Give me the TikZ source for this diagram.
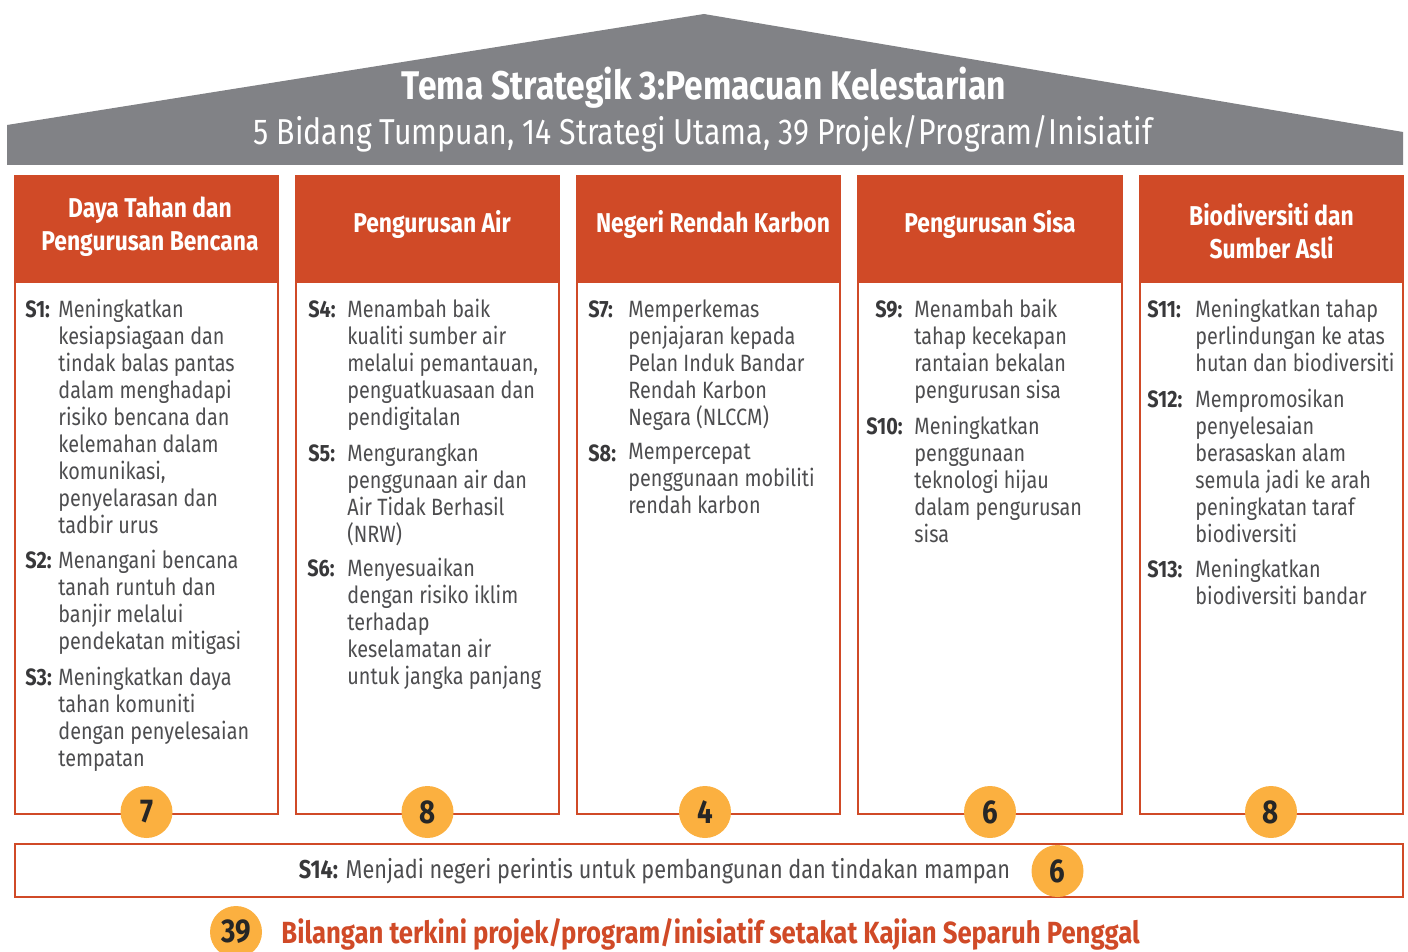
\documentclass[tikz,border=0pt]{standalone}
\usepackage{fontspec}
\setmainfont{Fira Sans}[FakeStretch=0.84]
\definecolor{kred}{HTML}{D04A27}
\definecolor{kgray}{HTML}{818286}
\definecolor{korange}{HTML}{FBB040}
\definecolor{ktext}{HTML}{4D4D4F}
\definecolor{klabel}{HTML}{38383A}
\tikzset{
  pillar/.style={draw=kred, line width=1pt},
  lbl/.style={anchor=north west, inner sep=0pt, text=klabel, font=\fontsize{11.8}{13.5}\selectfont\bfseries},
  body/.style={anchor=north west, inner sep=0pt, align=left, text=ktext, font=\fontsize{11.8}{13.5}\selectfont},
  hdtext/.style={align=center, inner sep=0pt, text=white, font=\fontsize{13.6}{16.5}\selectfont\bfseries},
  badge/.style={circle, fill=korange, minimum size=26pt, inner sep=0pt, text=black!85, font=\fontsize{16.5}{16.5}\selectfont\bfseries},
}
\begin{document}
\begin{tikzpicture}[x=0.5pt, y=-0.5pt]
    \useasboundingbox (0,0) rectangle (1408,952) ;
    % roof
    \fill [kgray] (7,125) -- (704,14) -- (1403,132) -- (1403,165) -- (7,165) -- cycle ;
    \node [text=white, font=\fontsize{20}{20}\selectfont\bfseries] (title) at (704,88) {Tema Strategik 3:Pemacuan Kelestarian} ;
    \node [text=white, font=\fontsize{18}{18}\selectfont] (subtitle) at (703,134) {5 Bidang Tumpuan, 14 Strategi Utama, 39 Projek/Program/Inisiatif} ;

    % pillars
    \draw [pillar] (15,176) rectangle ++(263,638) ;
    \fill [kred] (15,176) rectangle ++(263,107) ;
    \node [hdtext] (hd1) at (150,227) {Daya Tahan dan\\Pengurusan Bencana} ;
    \draw [pillar] (296,176) rectangle ++(263,638) ;
    \fill [kred] (296,176) rectangle ++(263,107) ;
    \node [hdtext] (hd2) at (432,224) {Pengurusan Air} ;
    \draw [pillar] (577,176) rectangle ++(263,638) ;
    \fill [kred] (577,176) rectangle ++(263,107) ;
    \node [hdtext] (hd3) at (713,224) {Negeri Rendah Karbon} ;
    \draw [pillar] (858,176) rectangle ++(264,638) ;
    \fill [kred] (858,176) rectangle ++(264,107) ;
    \node [hdtext] (hd4) at (990,224) {Pengurusan Sisa} ;
    \draw [pillar] (1140,176) rectangle ++(263,638) ;
    \fill [kred] (1140,176) rectangle ++(263,107) ;
    \node [hdtext] (hd5) at (1271.5,231) {Biodiversiti dan\\Sumber Asli} ;

    % strategies
    \node [lbl] (s1) at (25,300) {S1:} ;
    \node [body] (t1) at (58,299) {Meningkatkan\\kesiapsiagaan dan\\tindak balas pantas\\dalam menghadapi\\risiko bencana dan\\kelemahan dalam\\komunikasi,\\penyelarasan dan\\tadbir urus} ;
    \node [lbl] (s2) at (25,551) {S2:} ;
    \node [body] (t2) at (58,550) {Menangani bencana\\tanah runtuh dan\\banjir melalui\\pendekatan mitigasi} ;
    \node [lbl] (s3) at (25,668) {S3:} ;
    \node [body] (t3) at (58,667) {Meningkatkan daya\\tahan komuniti\\dengan penyelesaian\\tempatan} ;

    \node [lbl] (s4) at (308,300) {S4:} ;
    \node [body] (t4) at (347,299) {Menambah baik\\kualiti sumber air\\melalui pemantauan,\\penguatkuasaan dan\\pendigitalan} ;
    \node [lbl] (s5) at (308,444) {S5:} ;
    \node [body] (t5) at (347,443) {Mengurangkan\\penggunaan air dan\\Air Tidak Berhasil\\(NRW)} ;
    \node [lbl] (s6) at (307,559) {S6:} ;
    \node [body] (t6) at (347,558) {Menyesuaikan\\dengan risiko iklim\\terhadap\\keselamatan air\\untuk jangka panjang} ;

    \node [lbl] (s7) at (588,300) {S7:} ;
    \node [body] (t7) at (628,299) {Memperkemas\\penjajaran kepada\\Pelan Induk Bandar\\Rendah Karbon\\Negara (NLCCM)} ;
    \node [lbl] (s8) at (588,444) {S8:} ;
    \node [body] (t8) at (628,443) {Mempercepat\\penggunaan mobiliti\\rendah karbon} ;

    \node [lbl] (s9) at (875,300) {S9:} ;
    \node [body] (t9) at (914,299) {Menambah baik\\tahap kecekapan\\rantaian bekalan\\pengurusan sisa} ;
    \node [lbl] (s10) at (866,417) {S10:} ;
    \node [body] (t10) at (914,416) {Meningkatkan\\penggunaan\\teknologi hijau\\dalam pengurusan\\sisa} ;

    \node [lbl] (s11) at (1147,300) {S11:} ;
    \node [body] (t11) at (1195,299) {Meningkatkan tahap\\perlindungan ke atas\\hutan dan biodiversiti} ;
    \node [lbl] (s12) at (1147,390) {S12:} ;
    \node [body] (t12) at (1195,389) {Mempromosikan\\penyelesaian\\berasaskan alam\\semula jadi ke arah\\peningkatan taraf\\biodiversiti} ;
    \node [lbl] (s13) at (1147,560) {S13:} ;
    \node [body] (t13) at (1195,559) {Meningkatkan\\biodiversiti bandar} ;

    % counts
    \node [badge] (n1) at (146.5,812) {7} ;
    \node [badge] (n2) at (427.5,812) {8} ;
    \node [badge] (n3) at (705,812) {4} ;
    \node [badge] (n4) at (990,812) {6} ;
    \node [badge] (n5) at (1271,812) {8} ;

    % S14 bar
    \draw [pillar] (15,844) rectangle ++(1388,53) ;
    \node [text=ktext, font=\fontsize{12.9}{14}\selectfont] (s14) at (654.5,871) {\textcolor{klabel}{\bfseries S14:} Menjadi negeri perintis untuk pembangunan dan tindakan mampan} ;
    \node [badge] (n14) at (1057.5,871) {6} ;

    % total
    \node [badge] (total) at (236,932) {39} ;
    \node [anchor=west, inner sep=0pt, text=kred, font=\fontsize{15.3}{16}\selectfont\bfseries] (note) at (281,934) {Bilangan terkini projek/program/inisiatif setakat Kajian Separuh Penggal} ;
\end{tikzpicture}
\end{document}
